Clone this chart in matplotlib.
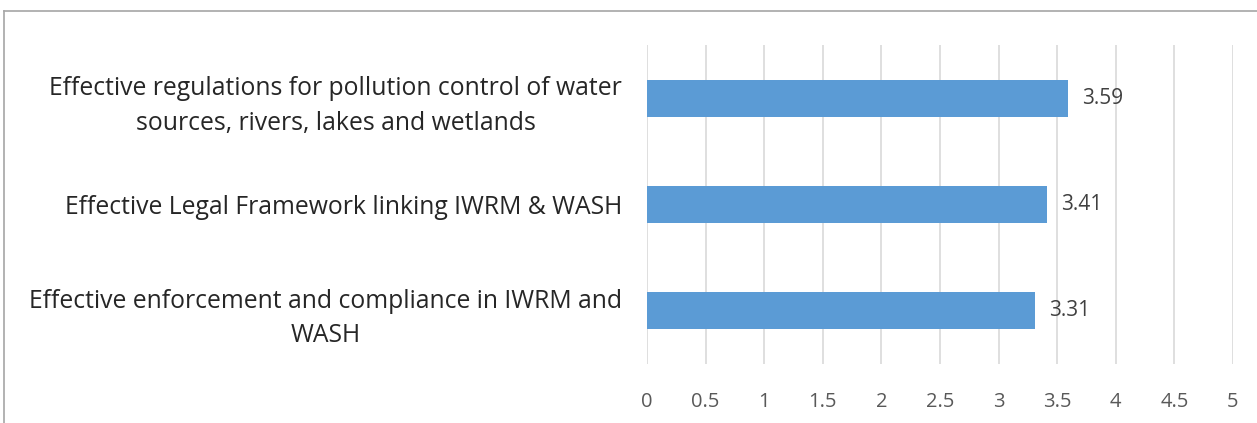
import matplotlib.pyplot as plt
from matplotlib.lines import Line2D

# data
categories = [
    'Effective enforcement and compliance in IWRM and\nWASH',
    'Effective Legal Framework linking IWRM & WASH',
    'Effective regulations for pollution control of water\nsources, rivers, lakes and wetlands',
]
values = [3.31, 3.41, 3.59]
ticks = [0, 0.5, 1, 1.5, 2, 2.5, 3, 3.5, 4, 4.5, 5]
tick_labels = ['0', '0.5', '1', '1.5', '2', '2.5', '3', '3.5', '4', '4.5', '5']

plt.rcParams['font.family'] = ['Open Sans', 'DejaVu Sans']

fig = plt.figure(figsize=(12.57, 4.23), dpi=100)
ax = fig.add_axes([0.5147, 0.1395, 0.4662, 0.754])

bars = ax.barh(range(len(values)), values, height=0.35, color='#5B9BD5')
ax.set_xlim(0, 5)
ax.set_ylim(-0.5, len(values) - 0.5)
ax.set_xticks(ticks)
ax.set_xticklabels(tick_labels, fontsize=14.5, color='#595959')
ax.set_yticks(range(len(values)))
ax.set_yticklabels(categories, fontsize=17.8, color='#262626', ha='right',
                   multialignment='center', linespacing=1.5)
ax.tick_params(axis='both', length=0)
ax.tick_params(axis='y', pad=18)
ax.tick_params(axis='x', pad=20)
ax.grid(axis='x', color='#D9D9D9', linewidth=1.2)
ax.set_axisbelow(True)
for s in ax.spines.values():
    s.set_visible(False)

for i, v in enumerate(values):
    ax.text(v + 0.12, i, f'{v:.2f}', va='center', ha='left', fontsize=15, color='#404040')

# chart frame
fig.add_artist(Line2D([4 / 1257, 1], [1 - 11 / 423, 1 - 11 / 423], color='#A6A6A6', linewidth=1.2))
fig.add_artist(Line2D([4 / 1257, 4 / 1257], [0, 1 - 11 / 423], color='#A6A6A6', linewidth=1.2))

fig.savefig('out.png', dpi=100)
